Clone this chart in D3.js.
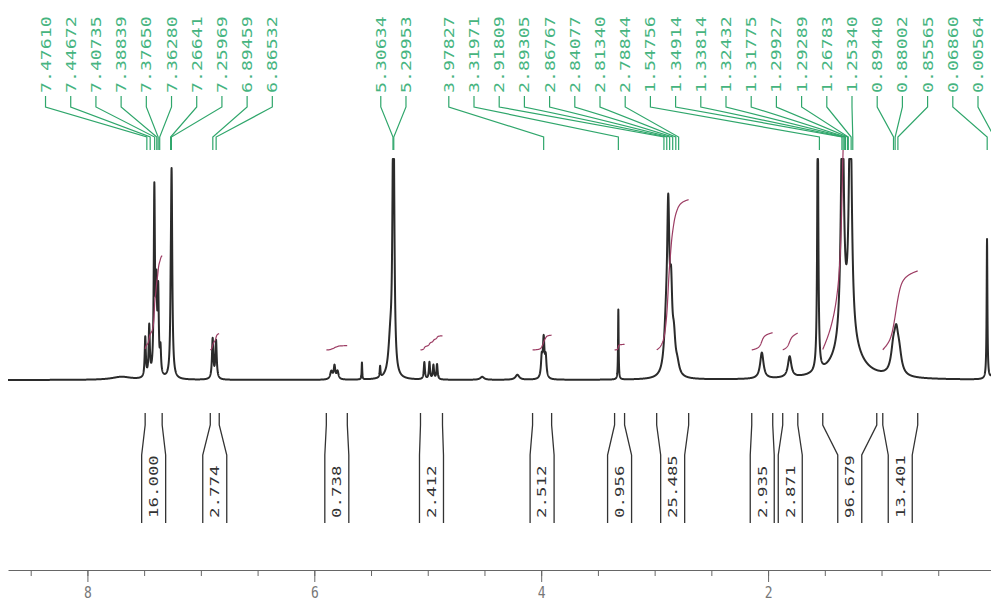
<!DOCTYPE html>
<html>
<head>
<meta charset="utf-8">
<title>1H NMR spectrum</title>
<style>
  html, body { margin: 0; padding: 0; background: #fff; }
  #renderer { display: block; background: #fff; }
</style>
<script src="https://cdn.jsdelivr.net/npm/d3@7"></script>
</head>
<body>
<svg id="renderer" width="991" height="601"></svg>
<script>
    // ---- data ----
    // spectrum lines: position (ppm), height, half width (ppm)
    var peakPpm    = [7.700, 7.490, 7.455, 7.410, 7.392, 7.376, 7.356, 7.266, 7.258, 6.896, 6.866,
                      5.850, 5.822, 5.795, 5.580, 5.420, 5.330, 5.306, 5.299,
                      5.030, 4.985, 4.950, 4.918, 4.520, 4.210, 3.995, 3.978, 3.960, 3.320,
                      2.900, 2.880, 2.855, 2.830, 2.800, 2.055, 1.810, 1.562,
                      1.345, 1.275, 1.300, 0.895, 0.870, 0.845, 0.070, 0.006];
    var peakHeight = [3, 40, 50, 185, 80, 80, 25, 30, 205, 40, 38,
                      8, 13, 8, 17, 11, 35, 160, 150,
                      17, 17, 14, 15, 3, 5, 20, 38, 20, 70,
                      40, 150, 70, 30, 10, 26, 21, 260,
                      250, 250, 38, 25, 30, 20, 140, 140];
    var peakWidth  = [0.100, 0.006, 0.006, 0.006, 0.006, 0.006, 0.006, 0.004, 0.007, 0.007, 0.007,
                      0.012, 0.008, 0.010, 0.003, 0.004, 0.020, 0.008, 0.008,
                      0.006, 0.006, 0.006, 0.006, 0.020, 0.020, 0.008, 0.008, 0.008, 0.003,
                      0.020, 0.012, 0.012, 0.015, 0.020, 0.018, 0.018, 0.006,
                      0.015, 0.015, 0.120, 0.025, 0.020, 0.025, 0.004, 0.004];

    // peak picking labels
    var pickLabels = [7.47610, 7.44672, 7.40735, 7.38839, 7.37650, 7.36280, 7.26641, 7.25969,
                      6.89459, 6.86532, 5.30634, 5.29953, 3.97827, 3.31971, 2.91809, 2.89305,
                      2.86767, 2.84077, 2.81340, 2.78844, 1.54756, 1.34914, 1.33814, 1.32432,
                      1.31775, 1.29927, 1.29289, 1.26783, 1.25340, 0.89440, 0.88002, 0.85565,
                      0.06860, 0.00564];

    // integrals
    var integralValue = ["16.000", "2.774", "0.738", "2.412", "2.512", "0.956", "25.485",
                         "2.935", "2.871", "96.679", "13.401"];
    var integralFrom  = [7.491, 6.917, 5.894, 5.064, 4.076, 3.353, 2.982, 2.144, 1.871, 1.518, 0.989];
    var integralTo    = [7.341, 6.838, 5.709, 4.870, 3.908, 3.265, 2.700, 1.959, 1.738, 1.042, 0.681];

    // axis
    var tickLabels = [8, 6, 4, 2];
    var minorTicks = d3.range(0.5, 8.6, 0.5);

    // ---- setup ----
    var root = d3.select('#renderer');

    var x = d3.scaleLinear().domain([8.70, 0.035]).range([8, 991]);
    var y = d3.scaleLinear().domain([0, 220]).range([380, 160]);

    function intensity(ppm) {
        var s = 0;
        for (var i = 0; i < peakPpm.length; i++) {
            var d = (ppm - peakPpm[i]) / peakWidth[i];
            s += peakHeight[i] / (1 + d * d);
        }
        return s;
    }

    var defs = root.append('defs');
    defs.append('clipPath').attr('id', 'plotClip')
        .append('rect').attr('x', 8).attr('y', 150).attr('width', 983).attr('height', 260);

    // ---- spectrum ----
    var specPts = d3.range(8.70, -0.03, -0.001).map(function (p) {
        return [p, Math.min(intensity(p), 221)];
    });
    var specLine = d3.line().x(function (d) { return x(d[0]); }).y(function (d) { return y(d[1]); });

    var plot = root.append('g').attr('clip-path', 'url(#plotClip)');
    plot.append('path')
        .datum(specPts)
        .attr('d', specLine)
        .attr('fill', 'none')
        .attr('stroke', '#2b2b2b')
        .attr('stroke-width', 2)
        .attr('stroke-linejoin', 'round');

    // integral curves: running sum of the spectrum over each region
    var integralBase = 350;
    var pxPerUnit = 5.9;
    integralValue.forEach(function (v, k) {
        var pts = d3.range(integralFrom[k], integralTo[k] - 0.0005, -0.002);
        var cum = 0, acc = [];
        pts.forEach(function (p) { cum += intensity(p); acc.push([p, cum]); });
        var rise = (+v) * pxPerUnit;
        plot.append('path')
            .datum(acc)
            .attr('d', d3.line()
                .x(function (d) { return x(d[0]); })
                .y(function (d) { return integralBase - d[1] / cum * rise; }))
            .attr('fill', 'none')
            .attr('stroke', '#9c3c63')
            .attr('stroke-width', 1.2);
    });

    // ---- peak labels on top ----
    function spreadLabels(xs, gap, lo, hi) {
        var groups = xs.map(function (v, i) { return { members: [i], start: v }; });
        function place(g) {
            var c = d3.median(g.members, function (i) { return xs[i]; });
            var n = g.members.length - 1;
            var s = c - n * gap / 2;
            g.start = Math.max(lo, Math.min(s, hi - n * gap));
        }
        groups.forEach(place);
        var merged = true;
        while (merged) {
            merged = false;
            for (var k = 0; k < groups.length - 1; k++) {
                var a = groups[k], b = groups[k + 1];
                if (a.start + a.members.length * gap > b.start + 0.01) {
                    a.members = a.members.concat(b.members);
                    groups.splice(k + 1, 1);
                    place(a);
                    merged = true;
                    break;
                }
            }
        }
        var out = [];
        groups.forEach(function (g) {
            g.members.forEach(function (i, j) { out[i] = g.start + j * gap; });
        });
        return out;
    }

    var peakX = pickLabels.map(function (p) { return x(p); });
    var labelX = spreadLabels(peakX, 25.2, 33, 978);

    var labelsG = root.append('g');
    pickLabels.forEach(function (p, i) {
        labelsG.append('path')
            .attr('d', 'M' + labelX[i] + ',96V107L' + peakX[i] + ',137V150')
            .attr('fill', 'none')
            .attr('stroke', '#2fa66b')
            .attr('stroke-width', 1.2);
        labelsG.append('text')
            .attr('transform', 'translate(' + (labelX[i] + 5) + ',93) rotate(-90) scale(1.3,1)')
            .attr('font-family', 'DejaVu Sans Mono')
            .attr('font-size', 14)
            .attr('fill', '#46b480')
            .text(p.toFixed(5));
    });

    // ---- integral brackets below ----
    var bracketsG = root.append('g');
    integralValue.forEach(function (v, k) {
        var x1 = x(integralFrom[k]), x2 = x(integralTo[k]);
        var cx = (x1 + x2) / 2;
        var bl = cx - 12, br = cx + 12;
        bracketsG.append('path')
            .attr('d', 'M' + x1 + ',413V425L' + bl + ',455V523M' + x2 + ',413V425L' + br + ',455V523')
            .attr('fill', 'none')
            .attr('stroke', '#333')
            .attr('stroke-width', 1.3);
        bracketsG.append('text')
            .attr('transform', 'translate(' + (cx + 4.4) + ',518) rotate(-90) scale(1.45,1)')
            .attr('font-family', 'DejaVu Sans Mono')
            .attr('font-size', 12)
            .attr('fill', '#333')
            .text(v);
    });

    // ---- axis ----
    var axisY = 570;
    var minorAxis = d3.axisBottom(x).tickValues(minorTicks).tickSize(6).tickSizeOuter(0).tickFormat('');
    var majorAxis = d3.axisBottom(x).tickValues(tickLabels).tickSize(12).tickSizeOuter(0).tickFormat(d3.format('d'));

    var gMinor = root.append('g').attr('transform', 'translate(0,' + axisY + ')').call(minorAxis);
    var gMajor = root.append('g').attr('transform', 'translate(0,' + axisY + ')').call(majorAxis);
    gMajor.select('.domain').remove();
    gMinor.select('.domain').attr('stroke', '#666');
    gMinor.selectAll('.tick line').attr('stroke', '#666');
    gMajor.selectAll('.tick line').attr('stroke', '#666');
    gMajor.selectAll('.tick text')
        .attr('y', 0).attr('dy', null)
        .attr('transform', 'translate(0,28) scale(1,1.28)')
        .attr('font-family', 'DejaVu Sans Mono')
        .attr('font-size', 13)
        .attr('fill', '#777');
</script>
</body>
</html>
